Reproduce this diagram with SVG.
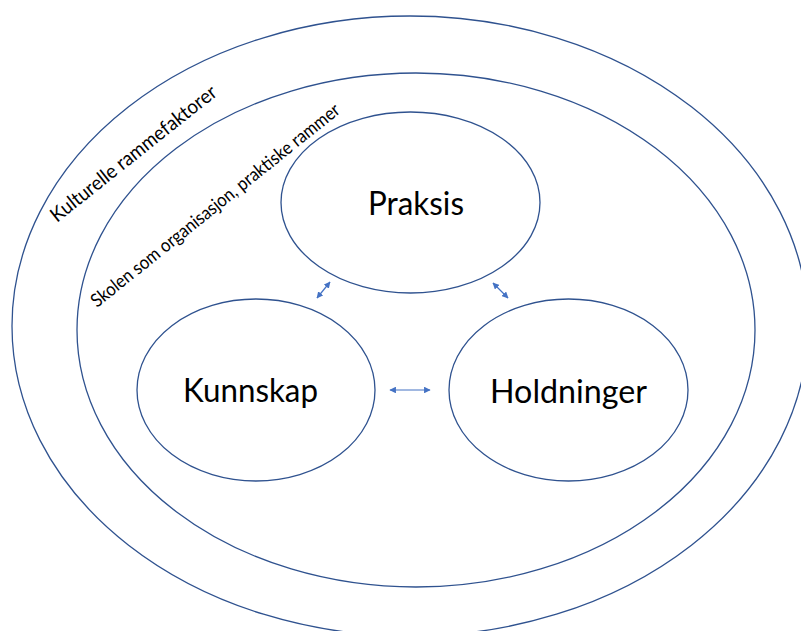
<svg xmlns="http://www.w3.org/2000/svg" width="801" height="631" viewBox="0 0 801 631">
<defs>
<style>
.ring{fill:none;stroke:#2F528F;stroke-width:1.3}
.node{fill:#fff;stroke:#2F528F;stroke-width:1.3}
.big{font-family:Lato,"Open Sans","Liberation Sans",sans-serif;font-size:33px;fill:#000;text-anchor:middle}
.small{font-family:Lato,"Open Sans","Liberation Sans",sans-serif;fill:#000}
.conn{stroke:#4472C4;stroke-width:1.2;fill:none;marker-start:url(#ah);marker-end:url(#ah)}
</style>
<marker id="ah" viewBox="0 0 10 10" refX="9" refY="5" markerWidth="5.5" markerHeight="5.5" orient="auto-start-reverse" markerUnits="strokeWidth">
<path d="M0,0 L10,5 L0,10 z" fill="#4472C4"/>
</marker>
</defs>
<g id="outer">
<ellipse class="ring" cx="410" cy="326" rx="398" ry="310"/>
<text class="small" font-size="20" transform="translate(57,223) rotate(-38.5)" textLength="206" lengthAdjust="spacingAndGlyphs">Kulturelle rammefaktorer</text>
</g>
<g id="inner">
<ellipse class="ring" cx="416" cy="330" rx="339" ry="257"/>
<text class="small" font-size="18.5" transform="translate(97,308) rotate(-38.7)" textLength="313" lengthAdjust="spacingAndGlyphs">Skolen som organisasjon, praktiske rammer</text>
</g>
<g id="praksis">
<ellipse class="node" cx="410.5" cy="202.5" rx="129.5" ry="90.5"/>
<text class="big" x="416" y="215" textLength="96" lengthAdjust="spacingAndGlyphs">Praksis</text>
</g>
<g id="kunnskap">
<ellipse class="node" cx="256" cy="390" rx="119" ry="91"/>
<text class="big" x="250.5" y="402" textLength="135" lengthAdjust="spacingAndGlyphs">Kunnskap</text>
</g>
<g id="holdninger">
<ellipse class="node" cx="568.5" cy="390" rx="119.5" ry="91"/>
<text class="big" x="568.5" y="403" textLength="157" lengthAdjust="spacingAndGlyphs">Holdninger</text>
</g>
<g id="connectors">
<line class="conn" x1="317" y1="298" x2="330" y2="282"/>
<line class="conn" x1="493" y1="283" x2="508" y2="298"/>
<line class="conn" x1="390" y1="390" x2="430" y2="390"/>
</g>
</svg>
